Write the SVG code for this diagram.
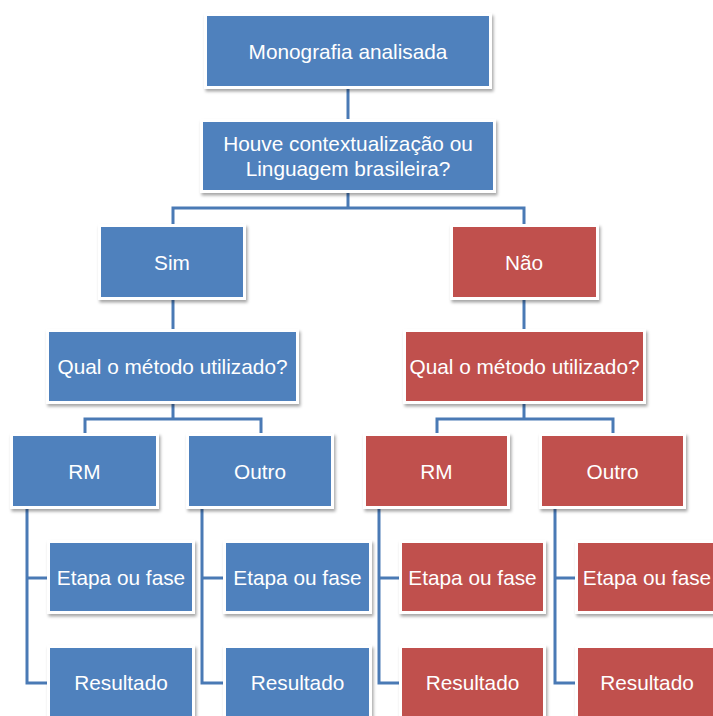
<svg xmlns="http://www.w3.org/2000/svg" width="713" height="716" viewBox="0 0 713 716">
  <defs>
    <filter id="shadow" x="-10%" y="-10%" width="130%" height="140%">
      <feDropShadow dx="1.5" dy="2.5" stdDeviation="1.6" flood-color="#000" flood-opacity="0.35"/>
    </filter>
  </defs>
  <style>
    .frame { fill: #ffffff; filter: url(#shadow); }
    .blue { fill: #4f81bd; }
    .red { fill: #c0504d; }
    .label { fill: #ffffff; font-family: "Liberation Sans", Arial, sans-serif; font-size: 20.8px; text-anchor: middle; }
    .wire { fill: none; stroke: #4a7ab5; stroke-width: 3; stroke-linejoin: miter; }
  </style>
  <rect width="713" height="716" fill="#ffffff"/>

  <!-- connectors -->
  <g id="connectors" class="wire">
    <path d="M348,86 V122"/>
    <path d="M348,190 V208 M173,227 V208 H524 V227"/>
    <path d="M173,297 V332"/>
    <path d="M524,297 V332"/>
    <path d="M173,401 V419 M85,436 V419 H261 V436"/>
    <path d="M524,401 V419 M437,436 V419 H613 V436"/>
    <path d="M27,506 V683 H50 M27,578 H50"/>
    <path d="M202,506 V683 H226 M202,578 H226"/>
    <path d="M379,506 V683 H402 M379,578 H402"/>
    <path d="M555,506 V683 H578 M555,578 H578"/>
  </g>

  <!-- nodes -->
  <g id="monografia">
    <rect class="frame" x="204" y="13" width="288" height="76"/>
    <rect class="blue" x="207" y="16" width="282" height="70"/>
    <text class="label" x="348" y="58.5">Monografia analisada</text>
  </g>
  <g id="pergunta">
    <rect class="frame" x="200" y="119" width="296" height="74"/>
    <rect class="blue" x="203" y="122" width="290" height="68"/>
    <text class="label" x="348" y="150.5">Houve contextualização ou</text>
    <text class="label" x="348" y="176">Linguagem brasileira?</text>
  </g>
  <g id="sim">
    <rect class="frame" x="98" y="224" width="148" height="76"/>
    <rect class="blue" x="101" y="227" width="142" height="70"/>
    <text class="label" x="172" y="269.5">Sim</text>
  </g>
  <g id="nao">
    <rect class="frame" x="450" y="224" width="149" height="76"/>
    <rect class="red" x="453" y="227" width="143" height="70"/>
    <text class="label" x="524" y="269.5">Não</text>
  </g>
  <g id="metodo-sim">
    <rect class="frame" x="46" y="329" width="253" height="75"/>
    <rect class="blue" x="49" y="332" width="247" height="69"/>
    <text class="label" x="172.5" y="373.5">Qual o método utilizado?</text>
  </g>
  <g id="metodo-nao">
    <rect class="frame" x="403" y="329" width="243" height="75"/>
    <rect class="red" x="406" y="332" width="237" height="69"/>
    <text class="label" x="524.5" y="373.5">Qual o método utilizado?</text>
  </g>
  <g id="rm-sim">
    <rect class="frame" x="10" y="433" width="149" height="76"/>
    <rect class="blue" x="13" y="436" width="143" height="70"/>
    <text class="label" x="84.5" y="478.5">RM</text>
  </g>
  <g id="outro-sim">
    <rect class="frame" x="186" y="433" width="148" height="76"/>
    <rect class="blue" x="189" y="436" width="142" height="70"/>
    <text class="label" x="260" y="478.5">Outro</text>
  </g>
  <g id="rm-nao">
    <rect class="frame" x="363" y="433" width="147" height="76"/>
    <rect class="red" x="366" y="436" width="141" height="70"/>
    <text class="label" x="436.5" y="478.5">RM</text>
  </g>
  <g id="outro-nao">
    <rect class="frame" x="539" y="433" width="147" height="76"/>
    <rect class="red" x="542" y="436" width="141" height="70"/>
    <text class="label" x="612.5" y="478.5">Outro</text>
  </g>
  <g id="etapa-rm-sim">
    <rect class="frame" x="47" y="540" width="148" height="74"/>
    <rect class="blue" x="50" y="543" width="142" height="68"/>
    <text class="label" x="121" y="584.5">Etapa ou fase</text>
  </g>
  <g id="resultado-rm-sim">
    <rect class="frame" x="47" y="645" width="148" height="80"/>
    <rect class="blue" x="50" y="648" width="142" height="74"/>
    <text class="label" x="121" y="689.5">Resultado</text>
  </g>
  <g id="etapa-outro-sim">
    <rect class="frame" x="223" y="540" width="149" height="74"/>
    <rect class="blue" x="226" y="543" width="143" height="68"/>
    <text class="label" x="297.5" y="584.5">Etapa ou fase</text>
  </g>
  <g id="resultado-outro-sim">
    <rect class="frame" x="223" y="645" width="149" height="80"/>
    <rect class="blue" x="226" y="648" width="143" height="74"/>
    <text class="label" x="297.5" y="689.5">Resultado</text>
  </g>
  <g id="etapa-rm-nao">
    <rect class="frame" x="399" y="540" width="147" height="74"/>
    <rect class="red" x="402" y="543" width="141" height="68"/>
    <text class="label" x="472.5" y="584.5">Etapa ou fase</text>
  </g>
  <g id="resultado-rm-nao">
    <rect class="frame" x="399" y="645" width="147" height="80"/>
    <rect class="red" x="402" y="648" width="141" height="74"/>
    <text class="label" x="472.5" y="689.5">Resultado</text>
  </g>
  <g id="etapa-outro-nao">
    <rect class="frame" x="575" y="540" width="147" height="74"/>
    <rect class="red" x="578" y="543" width="141" height="68"/>
    <text class="label" x="647" y="584.5">Etapa ou fase</text>
  </g>
  <g id="resultado-outro-nao">
    <rect class="frame" x="575" y="645" width="147" height="80"/>
    <rect class="red" x="578" y="648" width="141" height="74"/>
    <text class="label" x="647" y="689.5">Resultado</text>
  </g>
</svg>
